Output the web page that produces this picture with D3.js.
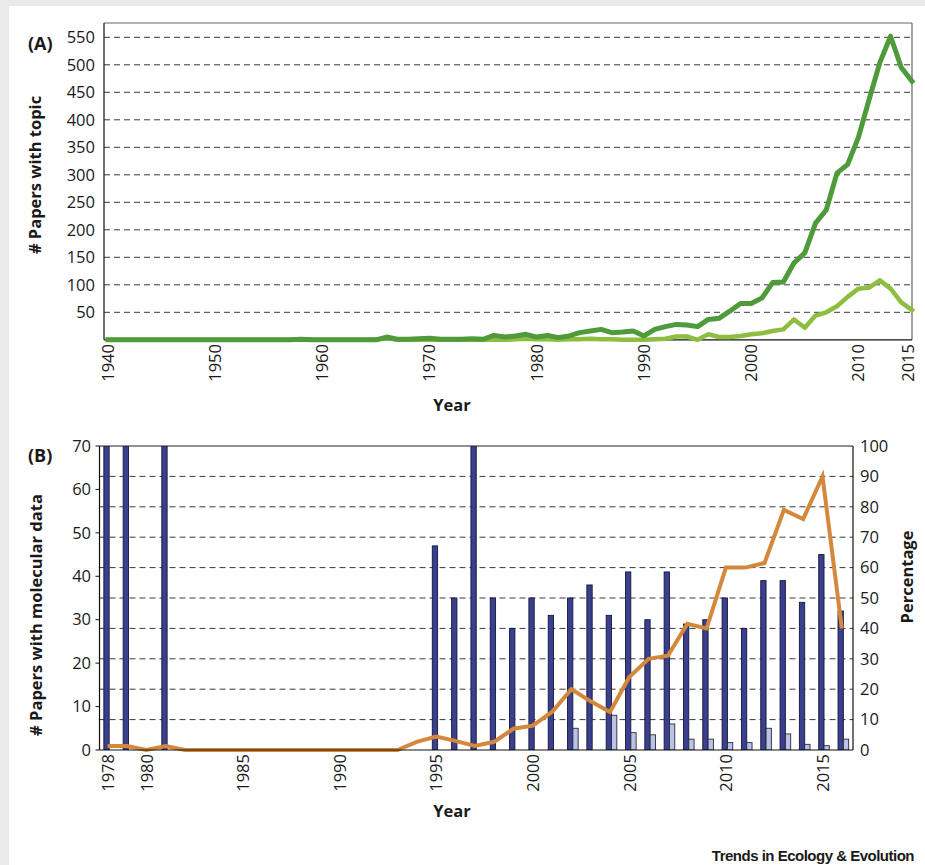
<!DOCTYPE html>
<html>
<head>
<meta charset="utf-8">
<script src="https://cdn.jsdelivr.net/npm/d3@7"></script>
<style>
  html, body { margin: 0; padding: 0; background: #e9eaec; }
  svg { display: block; }
  text { font-family: "Open Sans", "DejaVu Sans", sans-serif; fill: #1a1a1a; }
</style>
</head>
<body>
<svg id="chart" width="925" height="865"></svg>
<script>
// ---------- Panel A: papers per year on the topic ----------
const yearsA = d3.range(1940, 2016);
const topicAll = [
  0, 0, 0, 0, 0, 0, 0, 0, 0, 0,
  0, 0, 0, 0, 0, 0, 0, 0, 1, 0,
  0, 0, 0, 0, 0, 0, 5, 1, 1, 2,
  3, 1, 1, 1, 2, 1, 8, 5, 7, 10,
  5, 8, 4, 7, 13, 16, 19, 13, 14, 16,
  7, 19, 24, 28, 27, 24, 37, 39, 52, 66,
  66, 76, 104, 105, 140, 158, 212, 236, 303, 319,
  368, 437, 504, 552, 495, 470
];
const topicSub = [
  0, 0, 0, 0, 0, 0, 0, 0, 0, 0,
  0, 0, 0, 0, 0, 0, 0, 0, 1, 0,
  0, 0, 0, 0, 0, 0, 3, 0, 0, 0,
  0, 0, 0, 0, 0, 0, 0, 0, 1, 2,
  1, 1, 0, 1, 1, 2, 1, 1, 0, 0,
  0, 1, 2, 6, 6, 0, 10, 5, 5, 7,
  10, 12, 16, 19, 37, 22, 44, 50, 61, 78,
  93, 95, 108, 93, 68, 54
];
const ticksA_y = [50, 100, 150, 200, 250, 300, 350, 400, 450, 500, 550];
const ticksA_x = [1940, 1950, 1960, 1970, 1980, 1990, 2000, 2010, 2015];

// ---------- Panel B: papers with molecular data ----------
const yearsB = d3.range(1978, 2017);
const papersCount = [
  80, 80, 0, 80,
  0, 0, 0, 0, 0, 0, 0, 0, 0, 0, 0, 0, 0,
  47, 35, 80, 35, 28, 35, 31, 35, 38, 31, 41, 30, 41, 29, 30, 35, 28, 39, 39, 34, 45, 32
];
const molecularCount = [
  0, 0, 0, 0,
  0, 0, 0, 0, 0, 0, 0, 0, 0, 0, 0, 0, 0,
  0, 0, 0, 0, 0, 0, 0, 5, 0, 8, 4, 3.5, 6, 2.5, 2.5, 1.7, 1.7, 5, 3.7, 1.3, 1, 2.5
];
const percentage = [
  1.3, 1.3, 0, 1.3,
  0, 0, 0, 0, 0, 0, 0, 0, 0, 0, 0, 0,
  2.7, 4.4, 3, 1.3, 2.7, 7, 8, 12.5, 20, 16, 12.5, 24, 30, 31, 41.5, 40, 60, 60, 61.5, 79, 76, 90, 40
];
const ticksB_left = [0, 10, 20, 30, 40, 50, 60, 70];
const ticksB_right = [0, 10, 20, 30, 40, 50, 60, 70, 80, 90, 100];
const ticksB_x = [1978, 1980, 1985, 1990, 1995, 2000, 2005, 2010, 2015];

const svg = d3.select("#chart");

// white page area
svg.append("rect").attr("x", 9).attr("y", 6).attr("width", 916).attr("height", 859).attr("fill", "#ffffff");

const dash = "6,4";
const gridColor = "#3a3a3a";
const tickFont = 16.5;
const titleFont = 16.5;

// ================= Panel A =================
const A = { left: 104, right: 912, top: 23, bottom: 339.8 };
const xA = d3.scaleLinear().domain([1940, 2015]).range([108, 912]);
const yA = d3.scaleLinear().domain([0, 576]).range([A.bottom, A.top]);

const gA = svg.append("g");

gA.selectAll("line.gridA").data(ticksA_y).join("line")
  .attr("x1", A.left).attr("x2", A.right)
  .attr("y1", d => yA(d)).attr("y2", d => yA(d))
  .attr("stroke", gridColor).attr("stroke-width", 1).attr("stroke-dasharray", dash);

// frame
gA.append("line").attr("x1", A.left).attr("x2", A.right).attr("y1", A.top).attr("y2", A.top)
  .attr("stroke", "#666").attr("stroke-width", 1.2);
gA.append("line").attr("x1", A.right).attr("x2", A.right).attr("y1", A.top).attr("y2", A.bottom)
  .attr("stroke", "#666").attr("stroke-width", 1.2);
gA.append("line").attr("x1", A.left).attr("x2", A.right).attr("y1", A.bottom).attr("y2", A.bottom)
  .attr("stroke", "#111").attr("stroke-width", 1.2);
gA.append("line").attr("x1", A.left).attr("x2", A.left).attr("y1", A.top).attr("y2", A.bottom)
  .attr("stroke", "#111").attr("stroke-width", 1.2);

// y labels
gA.selectAll("text.ya").data(ticksA_y).join("text")
  .attr("x", 95).attr("y", d => yA(d)).attr("dy", "0.35em")
  .attr("text-anchor", "end").attr("font-size", tickFont).text(d => d);

// x labels (rotated)
gA.selectAll("text.xa").data(ticksA_x).join("text")
  .attr("transform", d => `translate(${xA(d) - (d === 2015 ? 4 : 0)},344) rotate(-90)`)
  .attr("dy", "0.35em").attr("text-anchor", "end").attr("font-size", tickFont).text(d => d);

// lines
const lineA = (vals) => d3.line().x((d, i) => xA(yearsA[i])).y(d => yA(d))(vals);
gA.append("path").attr("d", lineA(topicSub))
  .attr("fill", "none").attr("stroke", "#8dbe3f").attr("stroke-width", 4.5)
  .attr("stroke-linejoin", "round").attr("stroke-linecap", "square");
gA.append("path").attr("d", lineA(topicAll))
  .attr("fill", "none").attr("stroke", "#4f9a3a").attr("stroke-width", 5)
  .attr("stroke-linejoin", "round").attr("stroke-linecap", "square");

// titles
gA.append("text").attr("x", 28).attr("y", 50).attr("font-size", 18).attr("font-weight", 700).text("(A)");
gA.append("text").attr("transform", "translate(41,175) rotate(-90)")
  .attr("text-anchor", "middle").attr("font-size", titleFont).attr("font-weight", 700).text("# Papers with topic");
gA.append("text").attr("x", 452).attr("y", 411).attr("text-anchor", "middle")
  .attr("font-size", titleFont).attr("font-weight", 700).text("Year");

// ================= Panel B =================
const B = { left: 99.5, right: 853, top: 446, bottom: 750 };
const x0 = d3.scaleBand().domain(yearsB).range([B.left, B.right]).paddingInner(0.45).paddingOuter(0.225);
const x1 = d3.scaleBand().domain(["papers", "molecular"]).range([0, x0.bandwidth()]);
const yL = d3.scaleLinear().domain([0, 70]).range([B.bottom, B.top]);
const yR = d3.scaleLinear().domain([0, 100]).range([B.bottom, B.top]);

const gB = svg.append("g");

svg.append("defs").append("clipPath").attr("id", "clipB")
  .append("rect").attr("x", B.left).attr("y", B.top).attr("width", B.right - B.left).attr("height", B.bottom - B.top);

// gridlines follow the percentage axis
gB.selectAll("line.gridB").data(ticksB_right.filter(d => d > 0 && d < 100)).join("line")
  .attr("x1", B.left).attr("x2", B.right)
  .attr("y1", d => yR(d)).attr("y2", d => yR(d))
  .attr("stroke", gridColor).attr("stroke-width", 1).attr("stroke-dasharray", dash);

// bars
const rows = yearsB.map((y, i) => ({ year: y, papers: papersCount[i], molecular: molecularCount[i] }));
const barsG = gB.append("g").attr("clip-path", "url(#clipB)");
const grp = barsG.selectAll("g.yr").data(rows).join("g")
  .attr("transform", d => `translate(${x0(d.year)},0)`);
grp.filter(d => d.papers > 0).append("rect")
  .attr("x", x1("papers")).attr("width", x1.bandwidth())
  .attr("y", d => yL(d.papers)).attr("height", d => yL(0) - yL(d.papers))
  .attr("fill", "#3a3f8e").attr("stroke", "#15173a").attr("stroke-width", 0.9);
grp.filter(d => d.molecular > 0).append("rect")
  .attr("x", x1("molecular")).attr("width", x1.bandwidth())
  .attr("y", d => yL(d.molecular)).attr("height", d => yL(0) - yL(d.molecular))
  .attr("fill", "#b9c3e6").attr("stroke", "#2a2a3a").attr("stroke-width", 0.9);

// percentage line
const xc = y => x0(y) + x0.bandwidth() / 2 - 1.5;
gB.append("path")
  .attr("d", d3.line().x((d, i) => xc(yearsB[i])).y(d => yR(d))(percentage))
  .attr("fill", "none").attr("stroke", "#d4883b").attr("stroke-width", 4)
  .attr("stroke-linejoin", "miter");

// frame
gB.append("line").attr("x1", B.left).attr("x2", B.right).attr("y1", B.top).attr("y2", B.top)
  .attr("stroke", "#222").attr("stroke-width", 1.2);
gB.append("line").attr("x1", B.left).attr("x2", B.right).attr("y1", B.bottom).attr("y2", B.bottom)
  .attr("stroke", "#111").attr("stroke-width", 1.2);
gB.append("line").attr("x1", B.left).attr("x2", B.left).attr("y1", B.top).attr("y2", B.bottom)
  .attr("stroke", "#111").attr("stroke-width", 1.2);
gB.append("line").attr("x1", B.right).attr("x2", B.right).attr("y1", B.top).attr("y2", B.bottom)
  .attr("stroke", "#111").attr("stroke-width", 1.2);

// left axis ticks + labels
gB.selectAll("line.tl").data(ticksB_left).join("line")
  .attr("x1", B.left - 4).attr("x2", B.left).attr("y1", d => yL(d)).attr("y2", d => yL(d))
  .attr("stroke", "#111").attr("stroke-width", 1);
gB.selectAll("text.yl").data(ticksB_left).join("text")
  .attr("x", 91).attr("y", d => yL(d)).attr("dy", "0.35em")
  .attr("text-anchor", "end").attr("font-size", tickFont).text(d => d);

// right axis labels
gB.selectAll("text.yr").data(ticksB_right).join("text")
  .attr("x", 860).attr("y", d => yR(d)).attr("dy", "0.35em")
  .attr("text-anchor", "start").attr("font-size", tickFont).text(d => d);

// x labels
gB.selectAll("text.xb").data(ticksB_x).join("text")
  .attr("transform", d => `translate(${x0(d) + x0.bandwidth() / 2 - 1},754) rotate(-90)`)
  .attr("dy", "0.35em").attr("text-anchor", "end").attr("font-size", tickFont).text(d => d);

// titles
gB.append("text").attr("x", 28).attr("y", 462).attr("font-size", 18).attr("font-weight", 700).text("(B)");
gB.append("text").attr("transform", "translate(42,615) rotate(-90)")
  .attr("text-anchor", "middle").attr("font-size", titleFont).attr("font-weight", 700).text("# Papers with molecular data");
gB.append("text").attr("transform", "translate(913,577) rotate(-90)")
  .attr("text-anchor", "middle").attr("font-size", titleFont).attr("font-weight", 700).text("Percentage");
gB.append("text").attr("x", 452).attr("y", 817).attr("text-anchor", "middle")
  .attr("font-size", titleFont).attr("font-weight", 700).text("Year");

// journal credit
svg.append("text").attr("x", 914).attr("y", 861).attr("text-anchor", "end")
  .style("font-family", "'Liberation Sans', Arial, sans-serif")
  .attr("font-size", 15).attr("font-weight", 700).attr("letter-spacing", -0.5)
  .text("Trends in Ecology & Evolution");
</script>
</body>
</html>
